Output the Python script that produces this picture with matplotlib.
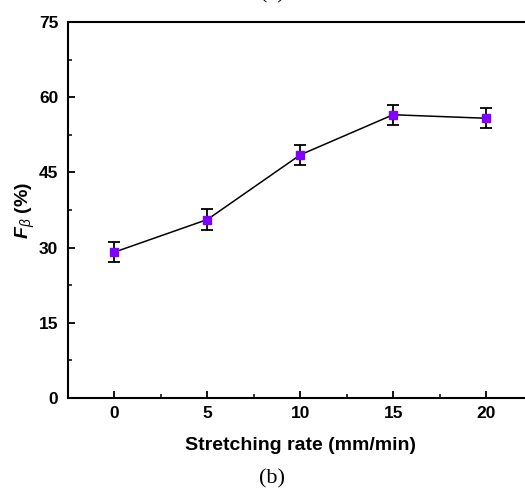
import matplotlib
matplotlib.use("Agg")
import matplotlib.pyplot as plt
from matplotlib.ticker import MultipleLocator

rates = [0, 5, 10, 15, 20]
f_beta = [29.1, 35.6, 48.5, 56.5, 55.8]
f_err = [2.0, 2.0, 2.0, 2.0, 2.0]

plt.rcParams['font.family'] = ['Liberation Sans', 'DejaVu Sans']
plt.rcParams['mathtext.fontset'] = 'custom'
plt.rcParams['mathtext.bfit'] = 'Liberation Sans:bold:italic'
plt.rcParams['mathtext.it'] = 'Liberation Sans:italic'
plt.rcParams['mathtext.rm'] = 'Liberation Sans'

fig = plt.figure(figsize=(5.25, 4.92), dpi=100)
ax = fig.add_axes([68/525, 1-398/492, (532.5-68)/525, (398-22)/492])

ax.errorbar(rates, f_beta, yerr=f_err, color='black', lw=1.1,
            marker='s', ms=5.8, mfc='#7f00ff', mec='#7f00ff',
            ecolor='black', elinewidth=1.3, capsize=4, capthick=1.3, zorder=3)

ax.set_xlim(-2.5, 22.5)
ax.set_ylim(0, 75)
ax.xaxis.set_major_locator(MultipleLocator(5))
ax.xaxis.set_minor_locator(MultipleLocator(2.5))
ax.yaxis.set_major_locator(MultipleLocator(15))
ax.yaxis.set_minor_locator(MultipleLocator(7.5))

for s in ax.spines.values():
    s.set_linewidth(1.5)
ax.tick_params(which='major', direction='in', length=5, width=1.3, labelsize=12.5)
ax.tick_params(which='minor', direction='in', length=3, width=1.1)
ax.tick_params(axis='y', which='major', pad=7)
ax.tick_params(axis='x', which='major', pad=6)
for lab in ax.get_xticklabels() + ax.get_yticklabels():
    lab.set_fontweight('bold')

ax.set_xlabel('Stretching rate (mm/min)', fontsize=14, fontweight='bold', labelpad=11)
ax.set_ylabel(r'$\mathbfit{F}_{\mathit{\beta}}$ (%)', fontsize=14, fontweight='bold', labelpad=1)

fig.text(272/525, 1-479/492, '(b)', family='Liberation Serif', fontsize=16, ha='center', va='center')
fig.text(272/525, 1-3/492, '(a)', family='Liberation Serif', fontsize=16, ha='center', va='bottom')

fig.savefig('out.png', dpi=100)
